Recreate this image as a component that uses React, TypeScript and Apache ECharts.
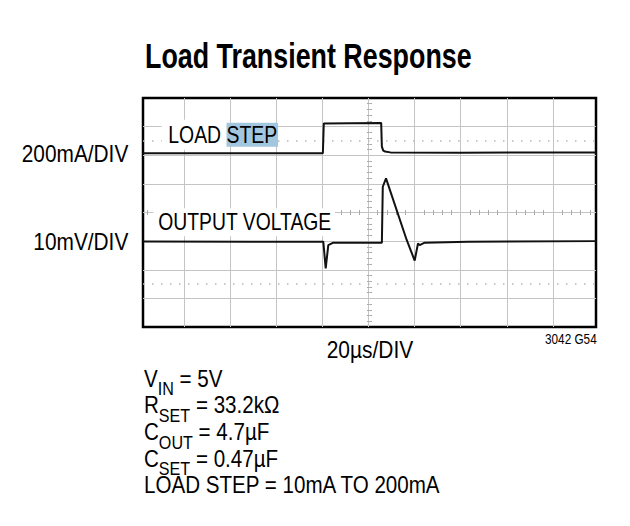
import { useEffect, useRef } from 'react';
import * as echarts from 'echarts';

// ---------- data ----------
const titleText = 'Load Transient Response';
const channelLabels = ['200mA/DIV', '10mV/DIV'];
const loadStepLabel = ['LOAD ', 'STEP'];
const outputLabel = 'OUTPUT VOLTAGE';
const timebaseLabel = '20µs/DIV';
const figureId = '3042 G54';
const conditionLines: [string, string, string][] = [
  ['V', 'IN', ' = 5V'],
  ['R', 'SET', ' = 33.2kΩ'],
  ['C', 'OUT', ' = 4.7µF'],
  ['C', 'SET', ' = 0.47µF'],
  ['LOAD STEP = 10mA TO 200mA', '', ''],
];

// time in µs (20µs/div), amplitude in screen divisions (0 = bottom, 8 = top)
const loadStepTimeUs = [2.17, 40, 80.2, 80.6, 92, 105.5, 105.8, 106.4, 107.2, 109.5, 140, 198.7];
const loadStepDiv = [6.07, 6.07, 6.07, 7.11, 7.12, 7.13, 6.3, 6.16, 6.13, 6.1, 6.09, 6.1];

const outputTimeUs = [2.17, 48.6, 80.39, 81.43, 82.56, 84.73, 105.8, 106.2, 107.6, 116.57, 120.04, 121.48, 122.21, 124.38, 143.2, 198.7];
const outputDiv = [2.99, 2.98, 2.98, 2.05, 2.86, 2.945, 2.945, 4.9, 5.19, 3.04, 2.32, 2.92, 2.86, 2.945, 2.98, 3.0];

const dottedRowsDiv = [1.5, 6.5];

// ---------- style ----------
const FAMILY = 'Liberation Sans Narrow, Arial Narrow, Liberation Sans, Arial, sans-serif';
const GRID_COLOR = '#c4c4c4';
const TICK_COLOR = '#aaaaaa';
const TRACE_COLOR = '#111';

function makeMeasurer() {
  const ctx = document.createElement('canvas').getContext('2d')!;
  return (t: string, size: number, weight = 'normal') => {
    ctx.font = `${weight} ${size}px ${FAMILY}`;
    return ctx.measureText(t).width;
  };
}

const hidden = { axisLine: { show: false }, axisLabel: { show: false }, splitLine: { show: false } };

// center graticule axes carrying the minor tick marks
function centerX(inside: boolean) {
  return {
    type: 'value',
    gridIndex: 0,
    position: 'bottom',
    offset: -114.5,
    min: 0,
    max: 200,
    interval: 20,
    ...hidden,
    axisTick: { show: false, inside },
    minorTick: { show: true, splitNumber: 5, length: 2.5, lineStyle: { color: TICK_COLOR, width: 1 } },
  };
}
function centerY(inside: boolean) {
  return {
    type: 'value',
    gridIndex: 1,
    position: 'left',
    offset: -226.5,
    min: 0,
    max: 8,
    interval: 1,
    ...hidden,
    axisTick: { show: false, inside },
    minorTick: { show: true, splitNumber: 5, length: 2.5, lineStyle: { color: TICK_COLOR, width: 1 } },
  };
}

export default function App() {
  const ref = useRef<HTMLDivElement>(null);

  useEffect(() => {
    if (!ref.current) return;
    const chart = echarts.init(ref.current, undefined, { renderer: 'svg' });
    const measure = makeMeasurer();
    const fit = (t: string, size: number, target: number, weight = 'normal') =>
      target / measure(t, size, weight);

    const titleScale = fit(titleText, 35, 326.7, 'bold');
    const ch0Scale = fit(channelLabels[0], 23.5, 106.6);
    const ch1Scale = fit(channelLabels[1], 23.5, 95);
    const lsScale = fit(loadStepLabel.join(''), 23.5, 109);
    const ovScale = fit(outputLabel, 23.5, 173.4);
    const tbScale = fit(timebaseLabel, 23.5, 86.6);
    const idScale = fit(figureId, 14, 51.7);
    const condScale = fit(conditionLines[4][0], 23, 297.7);

    const condRich = conditionLines
      .map(([a, b, c]) => `{m|${a}}` + (b ? `{s|${b}}` : '') + (c ? `{m|${c}}` : ''))
      .join('\n');

    const baseText = (extra: any) => ({
      fontFamily: FAMILY,
      fill: '#000',
      ...extra,
    });

    chart.setOption({
      animation: false,
      backgroundColor: '#fff',
      grid: [
        { left: 138, top: 98, width: 461, height: 229, show: false },
        {
          left: 143,
          top: 98,
          width: 453,
          height: 229,
          show: true,
          borderColor: '#000',
          borderWidth: 2.5,
          backgroundColor: 'transparent',
        },
      ],
      xAxis: [
        {
          type: 'value',
          gridIndex: 0,
          min: 0,
          max: 200,
          interval: 20,
          axisLine: { show: false },
          axisTick: { show: false },
          axisLabel: { show: false },
          splitLine: {
            show: true,
            showMinLine: false,
            showMaxLine: false,
            lineStyle: { color: GRID_COLOR, width: 1 },
          },
        },
        { type: 'value', gridIndex: 1, min: 2.17, max: 198.7, show: false },
        centerX(true),
        centerX(false),
      ],
      yAxis: [
        { type: 'value', gridIndex: 0, min: 0, max: 8, show: false },
        {
          type: 'value',
          gridIndex: 1,
          min: 0,
          max: 8,
          interval: 1,
          axisLine: { show: false },
          axisTick: { show: false },
          axisLabel: { show: false },
          splitLine: {
            show: true,
            showMinLine: false,
            showMaxLine: false,
            lineStyle: { color: GRID_COLOR, width: 1 },
          },
        },
        centerY(true),
        centerY(false),
      ],
      series: [
        {
          type: 'line',
          xAxisIndex: 1,
          yAxisIndex: 1,
          data: loadStepTimeUs.map((t, i) => [t, loadStepDiv[i]]),
          symbol: 'none',
          silent: true,
          z: 5,
          lineStyle: { color: TRACE_COLOR, width: 2 },
        },
        {
          type: 'line',
          xAxisIndex: 1,
          yAxisIndex: 1,
          data: outputTimeUs.map((t, i) => [t, outputDiv[i]]),
          symbol: 'none',
          silent: true,
          z: 5,
          lineStyle: { color: TRACE_COLOR, width: 2 },
          markLine: {
            silent: true,
            symbol: 'none',
            label: { show: false },
            lineStyle: { color: '#b8b8b8', type: [1.5, 7.5], width: 1.5 },
            data: dottedRowsDiv.map((v) => ({ yAxis: v })),
          },
        },
      ],
      graphic: [
        {
          type: 'text',
          x: 145,
          y: 55.8,
          scaleX: titleScale,
          z: 100,
          style: baseText({
            text: titleText,
            fontSize: 35,
            fontWeight: 'bold',
            align: 'left',
            verticalAlign: 'middle',
          }),
        },
        {
          type: 'text',
          x: 128.3,
          y: 153.7,
          scaleX: ch0Scale,
          z: 100,
          style: baseText({ text: channelLabels[0], fontSize: 23.5, align: 'right', verticalAlign: 'middle' }),
        },
        {
          type: 'text',
          x: 128.3,
          y: 242,
          scaleX: ch1Scale,
          z: 100,
          style: baseText({ text: channelLabels[1], fontSize: 23.5, align: 'right', verticalAlign: 'middle' }),
        },
        {
          type: 'text',
          x: 168.3 - 8 * lsScale,
          y: 134.8,
          scaleX: lsScale,
          z: 100,
          style: baseText({
            text: `{a|${loadStepLabel[0]}}{b|${loadStepLabel[1]}}`,
            fontSize: 23.5,
            align: 'left',
            verticalAlign: 'middle',
            rich: {
              a: {
                fontSize: 23.5,
                fontFamily: FAMILY,
                lineHeight: 20,
                backgroundColor: '#fff',
                padding: [3, 0, 3, 8],
              },
              b: {
                fontSize: 23.5,
                fontFamily: FAMILY,
                lineHeight: 20,
                backgroundColor: '#a2c6de',
                padding: [0, 1, 0, 0],
              },
            },
          }),
        },
        {
          type: 'text',
          x: 158.3 - 6 * ovScale,
          y: 222.3,
          scaleX: ovScale,
          z: 100,
          style: baseText({
            text: outputLabel,
            fontSize: 23.5,
            lineHeight: 18,
            align: 'left',
            verticalAlign: 'middle',
            backgroundColor: '#fff',
            padding: [5, 4, 5, 6],
          }),
        },
        {
          type: 'text',
          x: 326.7,
          y: 350.3,
          scaleX: tbScale,
          z: 100,
          style: baseText({ text: timebaseLabel, fontSize: 23.5, align: 'left', verticalAlign: 'middle' }),
        },
        {
          type: 'text',
          x: 596.7,
          y: 339,
          scaleX: idScale,
          z: 100,
          style: baseText({ text: figureId, fontSize: 14, align: 'right', verticalAlign: 'middle' }),
        },
        {
          type: 'text',
          x: 144,
          y: 367.5,
          scaleX: condScale,
          z: 100,
          style: baseText({
            text: condRich,
            fontSize: 23,
            align: 'left',
            verticalAlign: 'top',
            rich: {
              m: { fontSize: 23, fontFamily: FAMILY, lineHeight: 26.6, verticalAlign: 'top' },
              s: {
                fontSize: 18,
                fontFamily: FAMILY,
                lineHeight: 13.4,
                padding: [13.2, 0, 0, 0],
                verticalAlign: 'top',
              },
            },
          }),
        },
      ],
    });

    return () => chart.dispose();
  }, []);

  return (
    <div
      ref={ref}
      style={{ position: 'absolute', left: 0, top: 0, width: 630, height: 526 }}
    />
  );
}
